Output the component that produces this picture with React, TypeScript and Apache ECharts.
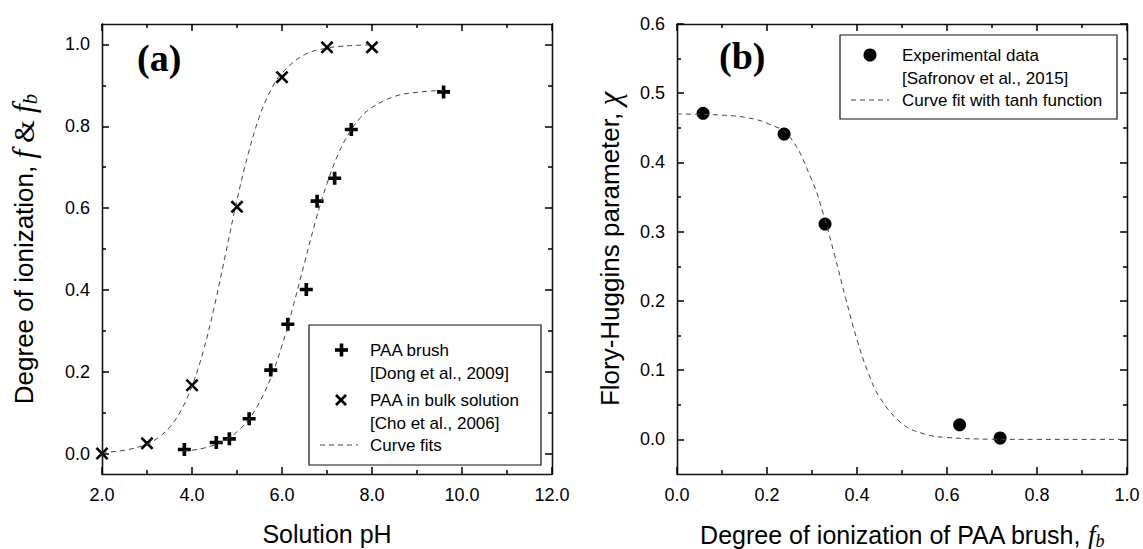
import React, { useEffect, useRef } from "react";
import * as echarts from "echarts";

// Panel (a): degree of ionization vs pH
const phBulk = [2.0, 3.0, 4.0, 5.0, 6.0, 7.0, 8.0];
const fBulk = [0.0, 0.025, 0.167, 0.603, 0.92, 0.993, 0.993];
const phBrush = [3.83, 4.54, 4.83, 5.27, 5.75, 6.13, 6.54, 6.78, 7.17, 7.54, 9.59];
const fBrush = [0.01, 0.027, 0.036, 0.085, 0.204, 0.316, 0.401, 0.617, 0.673, 0.792, 0.884];
const phBulkFit = [2, 2.5, 3, 3.25, 3.5, 3.75, 4, 4.25, 4.5, 4.75, 5, 5.25, 5.5, 5.75, 6, 6.5, 7, 7.5, 8];
const fBulkFit = [0.003, 0.008, 0.023, 0.039, 0.064, 0.104, 0.165, 0.25, 0.361, 0.49, 0.62, 0.733, 0.824, 0.888, 0.93, 0.975, 0.991, 0.997, 0.999];
const phBrushFit = [3.8, 4, 4.25, 4.5, 4.75, 5, 5.25, 5.5, 5.75, 6, 6.25, 6.5, 6.75, 7, 7.25, 7.5, 7.75, 8, 8.5, 9, 9.6];
const fBrushFit = [0.006, 0.008, 0.013, 0.021, 0.033, 0.053, 0.082, 0.125, 0.185, 0.264, 0.361, 0.466, 0.57, 0.66, 0.732, 0.785, 0.822, 0.846, 0.873, 0.883, 0.888];

// Panel (b): Flory-Huggins parameter vs degree of ionization
const fbExp = [0.058, 0.238, 0.329, 0.628, 0.718];
const chiExp = [0.471, 0.441, 0.311, 0.021, 0.002];
const fbFit = [0, 0.05, 0.1, 0.15, 0.2, 0.25, 0.3, 0.325, 0.35, 0.375, 0.4, 0.425, 0.45, 0.5, 0.55, 0.6, 0.7, 0.8, 0.9, 1.0];
const chiFit = [0.47, 0.4695, 0.4684, 0.4653, 0.4568, 0.4374, 0.3739, 0.326, 0.2667, 0.2033, 0.144, 0.0961, 0.0611, 0.0227, 0.0078, 0.0027, 0.0003, 0, 0, 0];

// Tick values
const yTicksA = [0, 0.2, 0.4, 0.6, 0.8, 1.0];
const yMinorA = [0.1, 0.3, 0.5, 0.7, 0.9];
const yTicksB = [0, 0.1, 0.2, 0.3, 0.4, 0.5, 0.6];
const yMinorB = [0.05, 0.15, 0.25, 0.35, 0.45, 0.55];

const SANS = "'Liberation Sans', Arial, sans-serif";
const SERIF = "'Liberation Serif', 'Times New Roman', serif";
const AX = "#111";
const TICK = "#000";
const CURVE = "#444";

const PLUS = "path://M3.6,0H6.4V3.6H10V6.4H6.4V10H3.6V6.4H0V3.6H3.6Z";
const CROSS = "path://M0,1.4L1.4,0L5,3.6L8.6,0L10,1.4L6.4,5L10,8.6L8.6,10L5,6.4L1.4,10L0,8.6L3.6,5Z";

const zip = (xs: number[], ys: number[]) => xs.map((x, i) => [x, ys[i]]);

const nameStyleX = {
  fontSize: 25,
  fontFamily: SANS,
  color: "#000",
  rich: {
    i: { fontFamily: SERIF, fontStyle: "italic", fontSize: 27, color: "#000" },
    sub: { fontFamily: SERIF, fontStyle: "italic", fontSize: 18, color: "#000", padding: [12, 0, 0, 0] },
  },
};
const nameStyleY = {
  fontSize: 26,
  fontFamily: SANS,
  color: "#000",
  rich: {
    i: { fontFamily: SERIF, fontStyle: "italic", fontSize: 31, color: "#000" },
    s: { fontFamily: SERIF, fontSize: 29, color: "#000" },
    sub: { fontFamily: SERIF, fontStyle: "italic", fontSize: 21, color: "#000", padding: [12, 0, 0, 0] },
  },
};

function xAxisDef(grid: number, min: number, max: number, interval: number, top: boolean, name?: string, nameGap?: number) {
  const a: any = {
    type: "value",
    gridIndex: grid,
    position: top ? "top" : "bottom",
    min,
    max,
    interval,
    axisLine: { show: true, onZero: false, lineStyle: { color: AX, width: 1.3 } },
    axisTick: { show: true, inside: true, length: 7, lineStyle: { color: TICK, width: 1.5 } },
    minorTick: { show: true, splitNumber: 2, length: 4, lineStyle: { color: TICK, width: 1.5 } },
    axisLabel: {
      show: !top,
      margin: 12,
      fontSize: 18,
      fontFamily: SANS,
      color: "#000",
      formatter: (v: number) => v.toFixed(1),
    },
    splitLine: { show: false },
  };
  if (name) {
    a.name = name;
    a.nameLocation = "middle";
    a.nameGap = nameGap;
    a.nameTextStyle = nameStyleX;
  }
  return a;
}

function yAxisDef(grid: number, min: number, max: number, ticks: number[], right: boolean, minor: boolean, name?: string, nameGap?: number) {
  const a: any = {
    type: "value",
    gridIndex: grid,
    position: right ? "right" : "left",
    min,
    max,
    axisLine: { show: true, onZero: false, lineStyle: { color: AX, width: 1.3 } },
    axisTick: {
      show: true,
      inside: true,
      length: minor ? 4 : 7,
      customValues: ticks,
      lineStyle: { color: TICK, width: 1.5 },
    },
    axisLabel: {
      show: !right && !minor,
      customValues: ticks,
      margin: 12,
      fontSize: 18,
      fontFamily: SANS,
      color: "#000",
      formatter: (v: number) => v.toFixed(1),
    },
    splitLine: { show: false },
  };
  if (name) {
    a.name = name;
    a.nameLocation = "middle";
    a.nameGap = nameGap;
    a.nameTextStyle = nameStyleY;
  }
  return a;
}

export default function App() {
  const ref = useRef<HTMLDivElement>(null);
  useEffect(() => {
    if (!ref.current) return;
    const chart = echarts.init(ref.current, undefined, { renderer: "svg" });
    const option: any = {
      animation: false,
      grid: [
        { left: 102, top: 24, width: 450, height: 450, containLabel: false, outerBoundsMode: "none" },
        { left: 677, top: 24, width: 450, height: 450, containLabel: false, outerBoundsMode: "none" },
      ],
      xAxis: [
        xAxisDef(0, 2, 12, 2, false, "Solution pH", 47),
        xAxisDef(0, 2, 12, 2, true),
        xAxisDef(1, 0, 1, 0.2, false, "Degree of ionization of PAA brush, {i|f}{sub|b}", 46),
        xAxisDef(1, 0, 1, 0.2, true),
      ],
      yAxis: [
        yAxisDef(0, -0.05, 1.05, yTicksA, false, false, "Degree of ionization, {i|f} {s|&} {i|f}{sub|b}", 62),
        yAxisDef(0, -0.05, 1.05, yMinorA, false, true),
        yAxisDef(0, -0.05, 1.05, yTicksA, true, false),
        yAxisDef(0, -0.05, 1.05, yMinorA, true, true),
        yAxisDef(1, -0.05, 0.6, yTicksB, false, false, "Flory-Huggins parameter, {i|χ}", 52),
        yAxisDef(1, -0.05, 0.6, yMinorB, false, true),
        yAxisDef(1, -0.05, 0.6, yTicksB, true, false),
        yAxisDef(1, -0.05, 0.6, yMinorB, true, true),
      ],
      series: [
        {
          type: "line",
          xAxisIndex: 0,
          yAxisIndex: 0,
          data: zip(phBulkFit, fBulkFit),
          showSymbol: false,
          smooth: 0.4,
          lineStyle: { type: [5, 4], width: 1, color: CURVE },
        },
        {
          type: "line",
          xAxisIndex: 0,
          yAxisIndex: 0,
          data: zip(phBrushFit, fBrushFit),
          showSymbol: false,
          smooth: 0.4,
          lineStyle: { type: [5, 4], width: 1, color: CURVE },
        },
        {
          type: "scatter",
          xAxisIndex: 0,
          yAxisIndex: 0,
          data: zip(phBrush, fBrush),
          symbol: PLUS,
          symbolSize: 13,
          itemStyle: { color: "#000", opacity: 1 },
        },
        {
          type: "scatter",
          xAxisIndex: 0,
          yAxisIndex: 0,
          data: zip(phBulk, fBulk),
          symbol: CROSS,
          symbolSize: 13,
          itemStyle: { color: "#000", opacity: 1 },
        },
        {
          type: "line",
          xAxisIndex: 2,
          yAxisIndex: 4,
          data: zip(fbFit, chiFit),
          showSymbol: false,
          smooth: 0.4,
          lineStyle: { type: [5, 4], width: 1, color: CURVE },
        },
        {
          type: "scatter",
          xAxisIndex: 2,
          yAxisIndex: 4,
          data: zip(fbExp, chiExp),
          symbol: "circle",
          symbolSize: 13,
          itemStyle: { color: "#000", opacity: 1 },
        },
      ],
      graphic: [
        { type: "text", left: 137, top: 39, style: { text: "(a)", font: `bold 38px ${SERIF}`, fill: "#000" } },
        { type: "text", left: 719, top: 37, style: { text: "(b)", font: `bold 38px ${SERIF}`, fill: "#000" } },
        // legend (a)
        { type: "rect", shape: { x: 309, y: 325, width: 232, height: 140 }, style: { fill: "#fff", stroke: AX, lineWidth: 1.2 } },
        { type: "rect", shape: { x: 335, y: 348.2, width: 13, height: 3.6 }, style: { fill: "#000" } },
        { type: "rect", shape: { x: 339.7, y: 343.5, width: 3.6, height: 13 }, style: { fill: "#000" } },
        { type: "line", shape: { x1: 336, y1: 395, x2: 346, y2: 405 }, style: { stroke: "#000", lineWidth: 2.6 } },
        { type: "line", shape: { x1: 336, y1: 405, x2: 346, y2: 395 }, style: { stroke: "#000", lineWidth: 2.6 } },
        { type: "line", shape: { x1: 320, y1: 445, x2: 358, y2: 445 }, style: { stroke: CURVE, lineWidth: 1, lineDash: [5, 4] } },
        { type: "text", x: 370, y: 350, style: { text: "PAA brush", font: `17px ${SANS}`, fill: "#000", verticalAlign: "middle" } },
        { type: "text", x: 370, y: 373, style: { text: "[Dong et al., 2009]", font: `17px ${SANS}`, fill: "#000", verticalAlign: "middle" } },
        { type: "text", x: 370, y: 400, style: { text: "PAA in bulk solution", font: `17px ${SANS}`, fill: "#000", verticalAlign: "middle" } },
        { type: "text", x: 370, y: 423, style: { text: "[Cho et al., 2006]", font: `17px ${SANS}`, fill: "#000", verticalAlign: "middle" } },
        { type: "text", x: 370, y: 445, style: { text: "Curve fits", font: `17px ${SANS}`, fill: "#000", verticalAlign: "middle" } },
        // legend (b)
        { type: "rect", shape: { x: 840, y: 35, width: 277, height: 84 }, style: { fill: "#fff", stroke: AX, lineWidth: 1.2 } },
        { type: "circle", shape: { cx: 870, cy: 55, r: 6.5 }, style: { fill: "#000" } },
        { type: "line", shape: { x1: 851, y1: 100, x2: 889, y2: 100 }, style: { stroke: CURVE, lineWidth: 1, lineDash: [5, 4] } },
        { type: "text", x: 902, y: 55, style: { text: "Experimental data", font: `17px ${SANS}`, fill: "#000", verticalAlign: "middle" } },
        { type: "text", x: 902, y: 78, style: { text: "[Safronov et al., 2015]", font: `17px ${SANS}`, fill: "#000", verticalAlign: "middle" } },
        { type: "text", x: 902, y: 100, style: { text: "Curve fit with tanh function", font: `17px ${SANS}`, fill: "#000", verticalAlign: "middle" } },
      ],
    };
    chart.setOption(option);
    return () => chart.dispose();
  }, []);
  return (
    <div
      ref={ref}
      style={{ position: "absolute", left: 0, top: 0, width: 1143, height: 549, background: "#fff" }}
    />
  );
}
